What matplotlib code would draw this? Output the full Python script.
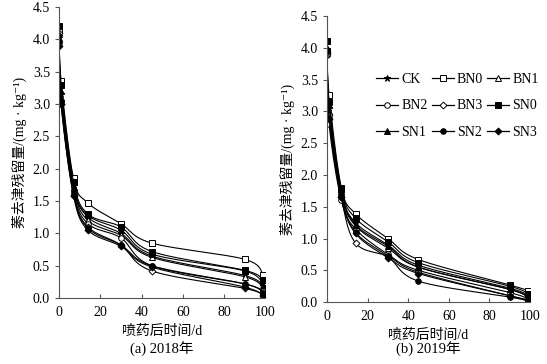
import numpy as np
import matplotlib
matplotlib.use("Agg")
import matplotlib.pyplot as plt
from matplotlib.lines import Line2D

plt.rcParams['font.family'] = ['Liberation Serif', 'Noto Sans CJK SC', 'DejaVu Sans']

days = [0, 1, 7, 14, 30, 45, 90, 99]
names = ['CK', 'BN0', 'BN1', 'BN2', 'BN3', 'SN0', 'SN1', 'SN2', 'SN3']

res_2018 = {
    'CK':  [4.05, 3.15, 1.75, 1.25, 1.00, 0.65, 0.35, 0.18],
    'BN0': [4.15, 3.35, 1.85, 1.47, 1.15, 0.85, 0.60, 0.36],
    'BN1': [4.00, 3.10, 1.70, 1.20, 0.97, 0.63, 0.33, 0.15],
    'BN2': [3.95, 3.05, 1.65, 1.15, 0.93, 0.50, 0.22, 0.10],
    'BN3': [4.10, 3.00, 1.60, 1.10, 0.82, 0.42, 0.15, 0.05],
    'SN0': [4.20, 3.30, 1.80, 1.30, 1.10, 0.72, 0.43, 0.28],
    'SN1': [4.08, 3.20, 1.72, 1.28, 1.05, 0.68, 0.42, 0.20],
    'SN2': [3.98, 3.05, 1.62, 1.08, 0.82, 0.50, 0.22, 0.08],
    'SN3': [3.90, 3.00, 1.58, 1.05, 0.80, 0.48, 0.17, 0.03],
}

res_2019 = {
    'CK':  [3.98, 3.05, 1.72, 1.25, 0.90, 0.58, 0.22, 0.10],
    'BN0': [3.95, 3.25, 1.80, 1.39, 1.00, 0.67, 0.27, 0.18],
    'BN1': [3.92, 3.00, 1.70, 1.20, 0.85, 0.55, 0.20, 0.08],
    'BN2': [3.88, 2.80, 1.60, 1.15, 0.75, 0.50, 0.15, 0.05],
    'BN3': [3.90, 2.95, 1.65, 0.93, 0.72, 0.47, 0.10, 0.03],
    'SN0': [4.10, 3.15, 1.78, 1.32, 0.95, 0.62, 0.25, 0.13],
    'SN1': [4.00, 3.10, 1.75, 1.22, 0.88, 0.55, 0.20, 0.07],
    'SN2': [3.97, 2.90, 1.68, 1.10, 0.72, 0.33, 0.08, 0.02],
    'SN3': [3.93, 2.88, 1.65, 1.08, 0.70, 0.45, 0.10, 0.04],
}

markers = {
    'CK': ('*', 'black'), 'BN0': ('s', 'white'), 'BN1': ('^', 'white'),
    'BN2': ('o', 'white'), 'BN3': ('D', 'white'), 'SN0': ('s', 'black'),
    'SN1': ('^', 'black'), 'SN2': ('o', 'black'), 'SN3': ('D', 'black'),
}
msizes = {'*': 5, 's': 4, '^': 4.5, 'o': 4, 'D': 3.5}


def smooth(x, y, n=30):
    # bezier smoothing like spreadsheet "smoothed line"
    x = np.asarray(x, float)
    y = np.asarray(y, float)
    P = np.column_stack([x, y])
    out = [P[:1]]
    for i in range(len(P) - 1):
        p0 = P[i - 1] if i > 0 else P[i]
        p1 = P[i]
        p2 = P[i + 1]
        p3 = P[i + 2] if i + 2 < len(P) else P[i + 1]
        c1 = p1 + (p2 - p0) / 6
        c2 = p2 - (p3 - p1) / 6
        t = np.linspace(0, 1, n)[1:, None]
        seg = (1 - t) ** 3 * p1 + 3 * (1 - t) ** 2 * t * c1 + 3 * (1 - t) * t ** 2 * c2 + t ** 3 * p2
        out.append(seg)
    S = np.vstack(out)
    return S[:, 0], S[:, 1]


fig = plt.figure(figsize=(5.47, 3.64), dpi=100)
ax1 = fig.add_axes([0.108, 0.181, 0.377, 0.800])
ax2 = fig.add_axes([0.598, 0.170, 0.371, 0.786])

ylab = '莠去津残留量/(mg · kg⁻¹)'
for ax, data, cap in [(ax1, res_2018, '(a) 2018年'), (ax2, res_2019, '(b) 2019年')]:
    for nm in names:
        sx, sy = smooth(days, data[nm])
        ax.plot(sx, sy, color='black', lw=0.8)
        m, fc = markers[nm]
        ax.plot(days, data[nm], ls='none', marker=m, ms=msizes[m],
                mfc=fc, mec='black', mew=0.7)
    ax.set_xlim(0, 100)
    ax.set_ylim(0, 4.5)
    ax.set_xticks(range(0, 101, 20))
    ax.set_yticks(np.arange(0, 4.51, 0.5))
    ax.yaxis.set_major_formatter(matplotlib.ticker.FormatStrFormatter('%.1f'))
    ax.spines['top'].set_visible(False)
    ax.spines['right'].set_visible(False)
    ax.spines['left'].set_color('#555555')
    ax.spines['bottom'].set_color('#555555')
    ax.tick_params(axis='x', direction='in', length=3, labelsize=10, pad=6, color='#555555')
    ax.tick_params(axis='y', direction='out', length=3, labelsize=10, color='#555555')
    ax.set_xlabel('喷药后时间/d', fontsize=10, labelpad=4)
    ax.set_ylabel(ylab, fontsize=10, labelpad=4)
    pos = ax.get_position()
    fig.text(pos.x0 + pos.width / 2, 0.02, cap, ha='center', va='bottom', fontsize=10.5)

# legend fills column by column, so reorder to read row-wise
order = [0, 3, 6, 1, 4, 7, 2, 5, 8]
handles = []
labels = []
for i in order:
    nm = names[i]
    m, fc = markers[nm]
    handles.append(Line2D([], [], color='black', lw=0.9, marker=m, ms=msizes[m],
                          mfc=fc, mec='black', mew=0.7))
    labels.append(nm)
fig.legend(handles, labels, ncol=3, loc='upper left', bbox_to_anchor=(0.665, 0.835),
           frameon=False, fontsize=10, handlelength=1.6, handletextpad=0.2,
           columnspacing=0.3, labelspacing=1.0)

fig.savefig('out.png', dpi=100)
